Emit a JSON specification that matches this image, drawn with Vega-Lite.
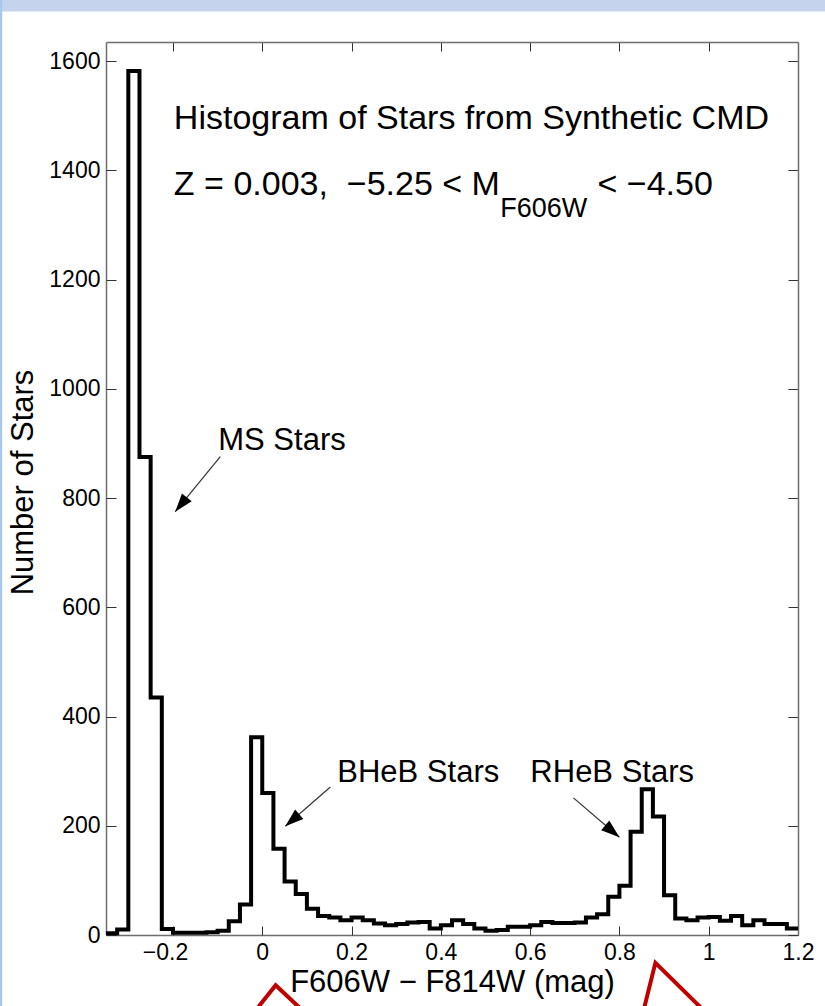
{
  "$schema": "https://vega.github.io/schema/vega-lite/v6.json",
  "width": 692,
  "height": 893,
  "autosize": {"type": "none"},
  "padding": {"left": 106, "top": 42, "right": 27, "bottom": 71},
  "background": "white",
  "config": {
    "view": {"stroke": null},
    "font": "Liberation Sans",
    "axis": {
      "grid": false,
      "labelFont": "Liberation Sans",
      "titleFont": "Liberation Sans",
      "labelColor": "black",
      "titleColor": "black",
      "titleFontWeight": "normal",
      "domainColor": "#6e6e6e",
      "domainWidth": 1.5,
      "tickColor": "#333333",
      "tickWidth": 1
    }
  },
  "datasets": {
    "hist": [
      {"x": -0.35, "n": 3}, {"x": -0.325, "n": 10}, {"x": -0.3, "n": 1582}, {"x": -0.275, "n": 875},
      {"x": -0.25, "n": 435}, {"x": -0.225, "n": 11}, {"x": -0.2, "n": 4}, {"x": -0.175, "n": 4},
      {"x": -0.15, "n": 4}, {"x": -0.125, "n": 5}, {"x": -0.1, "n": 8}, {"x": -0.075, "n": 25},
      {"x": -0.05, "n": 56}, {"x": -0.025, "n": 362}, {"x": 0, "n": 260}, {"x": 0.025, "n": 158},
      {"x": 0.05, "n": 98}, {"x": 0.075, "n": 75}, {"x": 0.1, "n": 48}, {"x": 0.125, "n": 35},
      {"x": 0.15, "n": 32}, {"x": 0.175, "n": 27}, {"x": 0.2, "n": 32}, {"x": 0.225, "n": 27},
      {"x": 0.25, "n": 21}, {"x": 0.275, "n": 18}, {"x": 0.3, "n": 20}, {"x": 0.325, "n": 23},
      {"x": 0.35, "n": 24}, {"x": 0.375, "n": 12}, {"x": 0.4, "n": 18}, {"x": 0.425, "n": 27},
      {"x": 0.45, "n": 20}, {"x": 0.475, "n": 12}, {"x": 0.5, "n": 8}, {"x": 0.525, "n": 9},
      {"x": 0.55, "n": 15}, {"x": 0.575, "n": 15}, {"x": 0.6, "n": 18}, {"x": 0.625, "n": 24},
      {"x": 0.65, "n": 22}, {"x": 0.675, "n": 22}, {"x": 0.7, "n": 23}, {"x": 0.725, "n": 32},
      {"x": 0.75, "n": 38}, {"x": 0.775, "n": 70}, {"x": 0.8, "n": 90}, {"x": 0.825, "n": 189},
      {"x": 0.85, "n": 267}, {"x": 0.875, "n": 217}, {"x": 0.9, "n": 73}, {"x": 0.925, "n": 30},
      {"x": 0.95, "n": 27}, {"x": 0.975, "n": 32}, {"x": 1.0, "n": 33}, {"x": 1.025, "n": 26},
      {"x": 1.05, "n": 35}, {"x": 1.075, "n": 18}, {"x": 1.1, "n": 27}, {"x": 1.125, "n": 20},
      {"x": 1.15, "n": 20}, {"x": 1.175, "n": 12}, {"x": 1.2, "n": 12}
    ],
    "arrows": [
      {"name": "MS", "x1": -0.094, "y1": 876, "x2": -0.195, "y2": 775, "ang": 219},
      {"name": "BHeB", "x1": 0.1525, "y1": 271, "x2": 0.0516, "y2": 199, "ang": 229},
      {"name": "RHeB", "x1": 0.697, "y1": 251, "x2": 0.8, "y2": 179, "ang": 130}
    ],
    "labels": [
      {"t": "Histogram of Stars from Synthetic CMD", "x": -0.198, "y": 1475, "fs": 34},
      {"t": "Z = 0.003,\u00a0 \u22125.25 < M", "x": -0.198, "y": 1355, "fs": 34},
      {"t": "F606W", "x": 0.533, "y": 1314, "fs": 27},
      {"t": "< \u22124.50", "x": 0.751, "y": 1355, "fs": 34},
      {"t": "MS Stars", "x": -0.0986, "y": 888, "fs": 31},
      {"t": "BHeB Stars", "x": 0.168, "y": 280, "fs": 31},
      {"t": "RHeB Stars", "x": 0.6005, "y": 280, "fs": 31}
    ],
    "red": [
      {"g": 1, "x": -0.012, "y": -135}, {"g": 1, "x": 0.03, "y": -92}, {"g": 1, "x": 0.086, "y": -135},
      {"g": 2, "x": 0.855, "y": -135}, {"g": 2, "x": 0.8806, "y": -51}, {"g": 2, "x": 0.985, "y": -135}
    ],
    "deco": [
      {"x": -0.588, "x2": 1.262, "y": 1691, "y2": 1712, "c": "#c5d3ec"},
      {"x": -0.588, "x2": -0.5825, "y": -140, "y2": 1712, "c": "#a9c6ee"}
    ]
  },
  "layer": [
    {
      "data": {"name": "deco"},
      "mark": {"type": "rect", "clip": false},
      "encoding": {
        "x": {"field": "x", "type": "quantitative", "scale": {"domain": [-0.35, 1.2], "nice": false, "zero": false}, "axis": null},
        "x2": {"field": "x2"},
        "y": {"field": "y", "type": "quantitative", "scale": {"domain": [0, 1635], "nice": false, "zero": false}, "axis": null},
        "y2": {"field": "y2"},
        "color": {"field": "c", "type": "nominal", "scale": null}
      }
    },
    {
      "data": {"name": "hist"},
      "mark": {"type": "line", "interpolate": "step-after", "color": "black", "strokeWidth": 4, "strokeJoin": "miter", "strokeCap": "butt"},
      "encoding": {
        "x": {
          "field": "x", "type": "quantitative",
          "scale": {"domain": [-0.35, 1.2], "nice": false, "zero": false},
          "axis": {
            "orient": "bottom",
            "title": "F606W \u2212 F814W (mag)",
            "titleFontSize": 31,
            "titlePadding": 3,
            "values": [-0.2, 0, 0.2, 0.4, 0.6, 0.8, 1, 1.2],
            "labelExpr": "datum.value == 0 ? '0' : datum.value == 1 ? '1' : (datum.value < 0 ? '\u2212' : '') + format(abs(datum.value), '.1f')",
            "labelFontSize": 23,
            "labelPadding": 6,
            "labelOffset": {"condition": {"test": "datum.value < 0", "value": -8}, "value": 0},
            "ticks": false,
            "domain": true,
            "labelFlush": false,
            "labelOverlap": false
          }
        },
        "y": {
          "field": "n", "type": "quantitative",
          "scale": {"domain": [0, 1635], "nice": false, "zero": false},
          "axis": {
            "orient": "left",
            "title": "Number of Stars",
            "titleFontSize": 31,
            "titlePadding": 9,
            "titleY": 440,
            "values": [0, 200, 400, 600, 800, 1000, 1200, 1400, 1600],
            "format": "d",
            "labelFontSize": 23,
            "labelPadding": 6,
            "ticks": false,
            "domain": true,
            "labelFlush": false,
            "labelOverlap": false
          }
        }
      }
    },
    {
      "data": {"name": "arrows"},
      "mark": {"type": "rule", "color": "#333333", "strokeWidth": 1.2},
      "encoding": {
        "x": {
          "field": "x1", "type": "quantitative",
          "scale": {"domain": [-0.35, 1.2], "nice": false, "zero": false},
          "axis": {"orient": "bottom", "title": null, "labels": false, "domain": false, "ticks": true, "tickSize": -9, "values": [-0.2, 0, 0.2, 0.4, 0.6, 0.8, 1, 1.2]}
        },
        "x2": {"field": "x2"},
        "y": {
          "field": "y1", "type": "quantitative",
          "scale": {"domain": [0, 1635], "nice": false, "zero": false},
          "axis": {"orient": "left", "title": null, "labels": false, "domain": false, "ticks": true, "tickSize": -10, "values": [0, 200, 400, 600, 800, 1000, 1200, 1400, 1600]}
        },
        "y2": {"field": "y2"}
      }
    },
    {
      "data": {"name": "arrows"},
      "mark": {"type": "point", "filled": true, "color": "black", "opacity": 1, "shape": "M0,0L0.34,1L-0.34,1Z", "size": 1369, "strokeWidth": 0},
      "encoding": {
        "x": {
          "field": "x2", "type": "quantitative",
          "scale": {"domain": [-0.35, 1.2], "nice": false, "zero": false},
          "axis": {"orient": "top", "title": null, "labels": false, "domain": true, "ticks": true, "tickSize": -9, "values": [-0.2, 0, 0.2, 0.4, 0.6, 0.8, 1, 1.2]}
        },
        "y": {
          "field": "y2", "type": "quantitative",
          "scale": {"domain": [0, 1635], "nice": false, "zero": false},
          "axis": {"orient": "right", "title": null, "labels": false, "domain": true, "ticks": true, "tickSize": -10, "values": [0, 200, 400, 600, 800, 1000, 1200, 1400, 1600]}
        },
        "angle": {"field": "ang", "type": "quantitative", "scale": null}
      }
    },
    {
      "data": {"name": "labels"},
      "mark": {"type": "text", "align": "left", "baseline": "alphabetic", "color": "black", "font": "Liberation Sans"},
      "encoding": {
        "x": {"field": "x", "type": "quantitative", "scale": {"domain": [-0.35, 1.2], "nice": false, "zero": false}, "axis": null},
        "y": {"field": "y", "type": "quantitative", "scale": {"domain": [0, 1635], "nice": false, "zero": false}, "axis": null},
        "text": {"field": "t"},
        "size": {"field": "fs", "type": "quantitative", "scale": null}
      }
    },
    {
      "data": {"name": "red"},
      "mark": {"type": "line", "color": "#c00000", "strokeWidth": 4, "clip": false},
      "encoding": {
        "x": {"field": "x", "type": "quantitative", "scale": {"domain": [-0.35, 1.2], "nice": false, "zero": false}, "axis": null},
        "y": {"field": "y", "type": "quantitative", "scale": {"domain": [0, 1635], "nice": false, "zero": false}, "axis": null},
        "detail": {"field": "g", "type": "nominal"}
      }
    }
  ],
  "resolve": {"axis": {"x": "independent", "y": "independent"}}
}
